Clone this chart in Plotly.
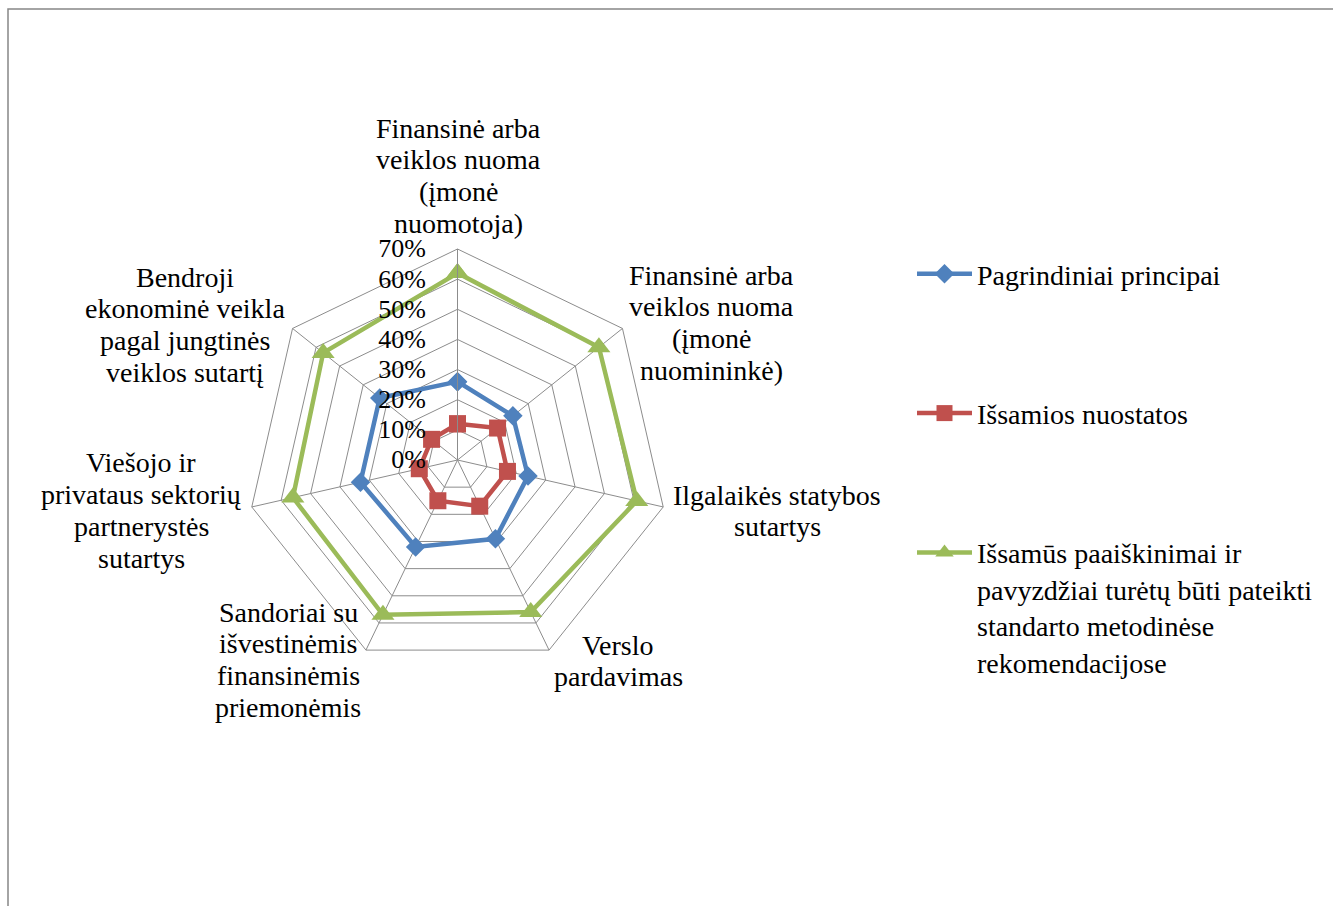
import plotly.graph_objects as go

W, H = 1333, 906

categories = [
    "Finansinė arba veiklos nuoma (įmonė nuomotoja)",
    "Finansinė arba veiklos nuoma (įmonė nuomininkė)",
    "Ilgalaikės statybos sutartys",
    "Verslo pardavimas",
    "Sandoriai su išvestinėmis finansinėmis priemonėmis",
    "Viešojo ir privataus sektorių partnerystės sutartys",
    "Bendroji ekonominė veikla pagal jungtinės veiklos sutartį",
]
# wrapped label lines as shown in the chart
label_lines = [
    ["Finansinė arba", "veiklos nuoma", "(įmonė", "nuomotoja)"],
    ["Finansinė arba", "veiklos nuoma", "(įmonė", "nuomininkė)"],
    ["Ilgalaikės statybos", "sutartys"],
    ["Verslo", "pardavimas"],
    ["Sandoriai su", "išvestinėmis", "finansinėmis", "priemonėmis"],
    ["Viešojo ir", "privataus sektorių", "partnerystės", "sutartys"],
    ["Bendroji", "ekonominė veikla", "pagal jungtinės", "veiklos sutartį"],
]

series_names = [
    "Pagrindiniai principai",
    "Išsamios nuostatos",
    "Išsamūs paaiškinimai ir<br>pavyzdžiai turėtų būti pateikti<br>standarto metodinėse<br>rekomendacijose",
]
pagrindiniai = [0.26, 0.235, 0.24, 0.29, 0.32, 0.33, 0.33]
issamios = [0.12, 0.17, 0.17, 0.17, 0.15, 0.13, 0.11]
paaiskinimai = [0.62, 0.60, 0.61, 0.56, 0.57, 0.56, 0.57]

colors = ["#4F81BD", "#C0504D", "#9BBB59"]
symbols = ["diamond", "square", "triangle-up"]
msizes = [15, 17, 20]

FONT = "Liberation Serif"
GRID = "#8C8C8C"

fig = go.Figure()
for i, vals in enumerate([pagrindiniai, issamios, paaiskinimai]):
    fig.add_trace(go.Scatterpolar(
        r=vals + [vals[0]],
        theta=categories + [categories[0]],
        mode="lines+markers",
        name=series_names[i],
        legendgroup=str(i),
        line=dict(color=colors[i], width=4.5),
        marker=dict(symbol=symbols[i], size=msizes[i], color=colors[i]),
        cliponaxis=False,
    ))

# label positions (first line centre, px)
label_pos = [(458, 128), (712, 275), (777, 495), (618, 645),
             (288, 612), (141, 463), (185, 277)]
LINE = 31.7
annotations = []
for (cx, cy), lines in zip(label_pos, label_lines):
    for k, t in enumerate(lines):
        annotations.append(dict(
            text=t, x=cx / W, y=1 - (cy + k * LINE) / H,
            xref="paper", yref="paper", xanchor="center", yanchor="middle",
            showarrow=False, font=dict(family=FONT, size=28, color="black"),
        ))

cx0, cy0, R = 457.5, 460, 211
fig.update_layout(
    width=W, height=H,
    margin=dict(l=0, r=0, t=0, b=0),
    paper_bgcolor="white",
    font=dict(family=FONT, color="black"),
    polar=dict(
        domain=dict(x=[(cx0 - R) / W, (cx0 + R) / W],
                    y=[1 - (cy0 + R) / H, 1 - (cy0 - R) / H]),
        gridshape="linear",
        bgcolor="white",
        radialaxis=dict(
            range=[0, 0.7], tick0=0, dtick=0.1, tickformat=".0%",
            angle=90, tickangle=90, side="counterclockwise",
            showline=True, linecolor=GRID, linewidth=1,
            gridcolor=GRID, gridwidth=1,
            ticks="outside", ticklen=22, tickcolor="rgba(0,0,0,0)",
            tickfont=dict(family=FONT, size=26, color="black"),
        ),
        angularaxis=dict(
            rotation=90, direction="clockwise",
            showline=True, linecolor=GRID, linewidth=1,
            gridcolor=GRID, gridwidth=1,
            showticklabels=False, ticks="",
        ),
    ),
    legend=dict(
        x=912 / W, y=1 - 249 / H, xanchor="left", yanchor="top",
        font=dict(family=FONT, size=28, color="black"),
        tracegroupgap=100, valign="top", bgcolor="rgba(0,0,0,0)",
        itemwidth=55,
    ),
    showlegend=True,
    annotations=annotations,
    shapes=[dict(type="rect", xref="paper", yref="paper",
                 x0=8 / W, x1=1.05, y0=-0.05, y1=1 - 9 / H,
                 line=dict(color="#878787", width=1.5))],
)

fig.write_html("out.html")
